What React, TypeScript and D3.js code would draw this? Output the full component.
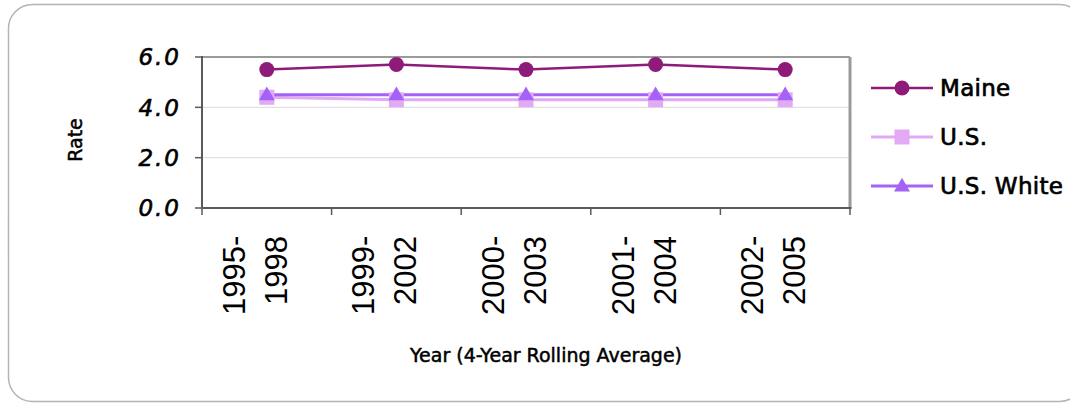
import React from "react";
import * as d3 from "d3";

const categories: string[][] = [
  ["1995-", "1998"],
  ["1999-", "2002"],
  ["2000-", "2003"],
  ["2001-", "2004"],
  ["2002-", "2005"],
];
const maine = [5.5, 5.7, 5.5, 5.7, 5.5];
const us = [4.4, 4.3, 4.3, 4.3, 4.3];
const usWhite = [4.5, 4.5, 4.5, 4.5, 4.5];
const yTicks = [0, 2, 4, 6];
const seriesNames = ["Maine", "U.S.", "U.S. White"];

const W = 1070;
const H = 404;
const plot = { left: 202, right: 850, top: 57, bottom: 208 };

const colors = { maine: "#8e1b7a", us: "#e2aaf5", usWhite: "#a562f6" };
const comic = "'DejaVu Sans', sans-serif";

export default function App() {
  const x = d3
    .scaleBand<number>()
    .domain(categories.map((_, i) => i))
    .range([plot.left, plot.right])
    .padding(0);
  const y = d3.scaleLinear().domain([0, 6]).range([plot.bottom, plot.top]);
  const cx = (i: number) => (x(i) as number) + x.bandwidth() / 2;
  const line = d3
    .line<number>()
    .x((_, i) => cx(i))
    .y((d) => y(d));

  const tri = d3.symbol().type(d3.symbolTriangle).size(110)() as string;

  const legendY = [88, 137, 186];

  return (
    <svg
      width={W}
      height={H}
      style={{ position: "absolute", left: 0, top: 0, background: "#fff" }}
    >
      <rect
        x={8.5}
        y={4.5}
        width={1075}
        height={397}
        rx={24}
        fill="#fff"
        stroke="#b4b4b4"
        strokeWidth={1.5}
      />
      {/* gridlines */}
      {yTicks
        .filter((t) => t > 0 && t < 6)
        .map((t) => (
          <line
            key={t}
            x1={plot.left}
            x2={plot.right}
            y1={y(t)}
            y2={y(t)}
            stroke="#e2e2e2"
            strokeWidth={1.2}
          />
        ))}
      {/* plot border */}
      <line x1={plot.left} x2={plot.right} y1={plot.top} y2={plot.top} stroke="#9a9a9a" strokeWidth={2} />
      <line x1={plot.right} x2={plot.right} y1={plot.top} y2={plot.bottom} stroke="#9a9a9a" strokeWidth={3} />
      <line x1={plot.left} x2={plot.right + 1.5} y1={plot.bottom} y2={plot.bottom} stroke="#5a5a5a" strokeWidth={2} />
      <line x1={plot.left} x2={plot.left} y1={plot.top - 1} y2={plot.bottom} stroke="#5a5a5a" strokeWidth={2} />
      {/* y ticks */}
      {yTicks.map((t) => (
        <g key={t}>
          <line x1={plot.left - 7} x2={plot.left} y1={y(t)} y2={y(t)} stroke="#5a5a5a" strokeWidth={1.5} />
          <text
            x={181}
            y={y(t)}
            dy="0.36em"
            textAnchor="end"
            fontFamily={comic}
            fontStyle="italic"
            fontSize={23}
            letterSpacing={2}
            stroke="#000"
            strokeWidth={0.6}
            fill="#000"
          >
            {t.toFixed(1)}
          </text>
        </g>
      ))}
      {/* x ticks */}
      {[...categories.map((_, i) => x(i) as number), plot.right].map((v, i) => (
        <line key={i} x1={v} x2={v} y1={plot.bottom} y2={plot.bottom + 7} stroke="#5a5a5a" strokeWidth={1.5} />
      ))}
      {categories.map((c, i) => (
        <g key={i}>
          <text
            transform={`translate(${cx(i) - 22},315) rotate(-90)`}
            textAnchor="start"
            fontFamily="'Liberation Sans', Arial, sans-serif"
            fontSize={31}
            fill="#000"
          >
            {c[0]}
          </text>
          <text
            transform={`translate(${cx(i) + 20},305) rotate(-90)`}
            textAnchor="start"
            fontFamily="'Liberation Sans', Arial, sans-serif"
            fontSize={31}
            fill="#000"
          >
            {c[1]}
          </text>
        </g>
      ))}
      {/* axis titles */}
      <text
        transform="translate(82,140) rotate(-90)"
        textAnchor="middle"
        fontFamily={comic}
        fontSize={19}
        stroke="#000"
        strokeWidth={0.5}
        fill="#000"
      >
        Rate
      </text>
      <text
        x={546}
        y={362}
        textAnchor="middle"
        fontFamily={comic}
        fontSize={19}
        stroke="#000"
        strokeWidth={0.5}
        fill="#000"
      >
        Year (4-Year Rolling Average)
      </text>
      {/* series */}
      <path d={line(us) as string} fill="none" stroke={colors.us} strokeWidth={3} />
      <path d={line(usWhite) as string} fill="none" stroke={colors.usWhite} strokeWidth={3} />
      <path d={line(maine) as string} fill="none" stroke={colors.maine} strokeWidth={2.5} />
      {us.map((d, i) => (
        <rect key={i} x={cx(i) - 7.5} y={y(d) - 7.5} width={15} height={15} fill={colors.us} />
      ))}
      {usWhite.map((d, i) => (
        <path key={i} d={tri} transform={`translate(${cx(i)},${y(d) + 1})`} fill={colors.usWhite} />
      ))}
      {maine.map((d, i) => (
        <circle key={i} cx={cx(i)} cy={y(d)} r={7.5} fill={colors.maine} />
      ))}
      {/* legend */}
      {seriesNames.map((name, i) => {
        const ly = legendY[i];
        const col = [colors.maine, colors.us, colors.usWhite][i];
        return (
          <g key={name}>
            <line x1={871} x2={933} y1={ly} y2={ly} stroke={col} strokeWidth={i === 0 ? 2.5 : 3} />
            {i === 0 && <circle cx={902} cy={ly} r={7.5} fill={col} />}
            {i === 1 && <rect x={894.5} y={ly - 7.5} width={15} height={15} fill={col} />}
            {i === 2 && <path d={tri} transform={`translate(902,${ly + 1})`} fill={col} />}
            <text
              x={940}
              y={ly}
              dy="0.36em"
              fontFamily={comic}
              fontSize={23}
              letterSpacing={0.3}
              stroke="#000"
              strokeWidth={0.7}
              fill="#000"
            >
              {name}
            </text>
          </g>
        );
      })}
    </svg>
  );
}
